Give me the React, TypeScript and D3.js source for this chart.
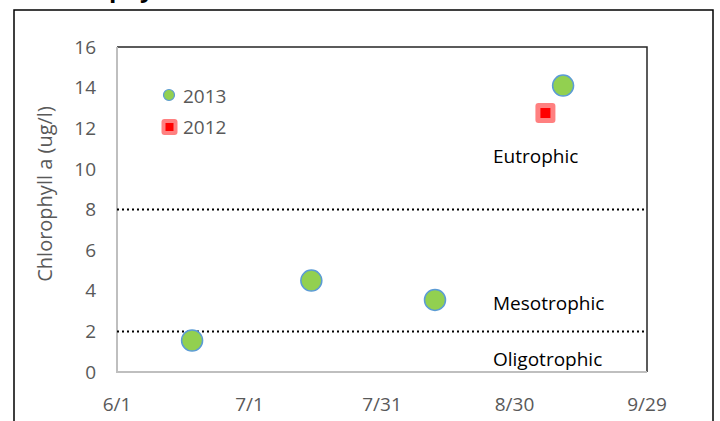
import React, { useEffect, useRef } from 'react';
import * as d3 from 'd3';

const xTickLabels = ['6/1', '7/1', '7/31', '8/30', '9/29'];
const yTicks = [0, 2, 4, 6, 8, 10, 12, 14, 16];

const dates2013 = ['6/18', '7/15', '8/12', '9/10'];
const values2013 = [1.55, 4.5, 3.55, 14.1];

const dates2012 = ['9/6'];
const values2012 = [12.75];

const thresholds = [2, 8];
const zoneLabels = ['Eutrophic', 'Mesotrophic', 'Oligotrophic'];
const zoneValues = [10.6, 3.4, 0.6];

const parseMD = (s: string) => {
  const [m, d] = s.split('/').map(Number);
  return new Date(2013, m - 1, d);
};

const App: React.FC = () => {
  const svgRef = useRef<SVGSVGElement>(null);

  useEffect(() => {
    if (!svgRef.current) return;
    const svg = d3.select(svgRef.current);
    svg.selectAll('*').remove();

    const left = 117, right = 647, top = 47, bottom = 372;
    const font = "'Open Sans', 'Liberation Sans', sans-serif";

    const x = d3.scaleTime()
      .domain([parseMD(xTickLabels[0]), parseMD(xTickLabels[xTickLabels.length - 1])])
      .range([left, right]);
    const y = d3.scaleLinear().domain([0, 16]).range([bottom, top]);

    // outer chart frame (cut off at the bottom)
    svg.append('path')
      .attr('d', `M14,440 V10 H713 V440`)
      .attr('fill', 'none')
      .attr('stroke', '#000')
      .attr('stroke-width', 1.5);

    // title, mostly cropped away above the frame
    svg.append('text')
      .attr('x', 30)
      .attr('y', -3)
      .attr('font-family', font)
      .attr('font-weight', 700)
      .attr('font-size', 24)
      .attr('fill', '#000')
      .text('Chlorophyll a');

    // plot area border (top/right)
    svg.append('path')
      .attr('d', `M${left},${top} H${right} V${bottom}`)
      .attr('fill', 'none')
      .attr('stroke', '#262626')
      .attr('stroke-width', 1.5);

    // axes lines
    svg.append('path')
      .attr('d', `M${left},${top} V${bottom} H${right}`)
      .attr('fill', 'none')
      .attr('stroke', '#bfbfbf')
      .attr('stroke-width', 2);

    // y tick labels
    svg.append('g')
      .selectAll('text')
      .data(yTicks)
      .join('text')
      .attr('x', 96)
      .attr('y', d => y(d))
      .attr('dy', '0.35em')
      .attr('text-anchor', 'end')
      .attr('font-family', font)
      .attr('font-size', 19)
      .attr('fill', '#595959')
      .text(d => d);

    // x tick labels
    svg.append('g')
      .selectAll('text')
      .data(xTickLabels)
      .join('text')
      .attr('x', d => x(parseMD(d)))
      .attr('y', 404)
      .attr('dy', '0.35em')
      .attr('text-anchor', 'middle')
      .attr('font-family', font)
      .attr('font-size', 19)
      .attr('fill', '#595959')
      .text(d => d);

    // y axis title
    svg.append('text')
      .attr('transform', `translate(45,194) rotate(-90)`)
      .attr('text-anchor', 'middle')
      .attr('dy', '0.35em')
      .attr('font-family', font)
      .attr('font-size', 20)
      .attr('fill', '#595959')
      .text('Chlorophyll a (ug/l)');

    // threshold lines
    svg.append('g')
      .selectAll('line')
      .data(thresholds)
      .join('line')
      .attr('x1', left)
      .attr('x2', right)
      .attr('y1', d => y(d))
      .attr('y2', d => y(d))
      .attr('stroke', '#000')
      .attr('stroke-width', 2)
      .attr('stroke-dasharray', '2,3');

    // zone labels
    svg.append('g')
      .selectAll('text')
      .data(zoneLabels)
      .join('text')
      .attr('x', 493)
      .attr('y', (_, i) => y(zoneValues[i]))
      .attr('dy', '0.35em')
      .attr('font-family', font)
      .attr('font-size', 19)
      .attr('fill', '#000')
      .text(d => d);

    // 2012 series
    const sq = (cx: number, cy: number, outer: number, inner: number) => {
      svg.append('rect')
        .attr('x', cx - outer / 2).attr('y', cy - outer / 2)
        .attr('width', outer).attr('height', outer)
        .attr('rx', 3)
        .attr('fill', '#ff8080');
      svg.append('rect')
        .attr('x', cx - inner / 2).attr('y', cy - inner / 2)
        .attr('width', inner).attr('height', inner)
        .attr('fill', '#ff0000');
    };
    dates2012.forEach((d, i) => sq(x(parseMD(d)), y(values2012[i]), 20, 10));

    // 2013 series
    svg.append('g')
      .selectAll('circle')
      .data(dates2013)
      .join('circle')
      .attr('cx', d => x(parseMD(d)))
      .attr('cy', (_, i) => y(values2013[i]))
      .attr('r', 10.5)
      .attr('fill', '#92d050')
      .attr('stroke', '#5b9bd5')
      .attr('stroke-width', 1.5);

    // legend
    svg.append('circle')
      .attr('cx', 169).attr('cy', 95).attr('r', 5.5)
      .attr('fill', '#92d050')
      .attr('stroke', '#5b9bd5')
      .attr('stroke-width', 1.2);
    svg.append('text')
      .attr('x', 183).attr('y', 96).attr('dy', '0.35em')
      .attr('font-family', font).attr('font-size', 19).attr('fill', '#595959')
      .text('2013');
    sq(169.5, 127, 16, 8);
    svg.append('text')
      .attr('x', 183).attr('y', 127).attr('dy', '0.35em')
      .attr('font-family', font).attr('font-size', 19).attr('fill', '#595959')
      .text('2012');
  }, []);

  return (
    <svg
      ref={svgRef}
      width={720}
      height={421}
      style={{ position: 'absolute', left: 0, top: 0, background: '#fff' }}
    />
  );
};

export default App;
